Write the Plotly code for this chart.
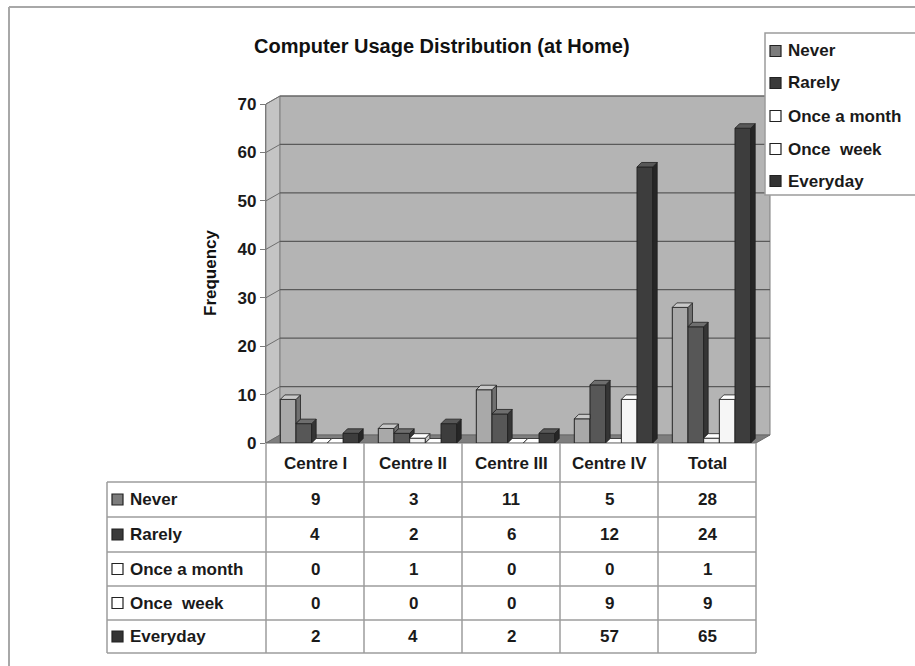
import plotly.graph_objects as go

# ---- data -------------------------------------------------------------
categories = ["Centre I", "Centre II", "Centre III", "Centre IV", "Total"]
series_names = ["Never", "Rarely", "Once a month", "Once\u00a0 week", "Everyday"]
never = [9, 3, 11, 5, 28]
rarely = [4, 2, 6, 12, 24]
once_a_month = [0, 1, 0, 0, 1]
once_week = [0, 0, 0, 9, 9]
everyday = [2, 4, 2, 57, 65]
y_ticks = [0, 10, 20, 30, 40, 50, 60, 70]

series_values = [never, rarely, once_a_month, once_week, everyday]

# ---- styling ------------------------------------------------------------
front_col = ["#a9a9a9", "#575757", "#f4f4f4", "#f6f6f6", "#3d3d3d"]
side_col = ["#707070", "#353535", "#c4c4c4", "#c8c8c8", "#262626"]
top_col = ["#c9c9c9", "#6e6e6e", "#ffffff", "#ffffff", "#585858"]
key_col = ["#7c7c7c", "#3a3a3a", "#ffffff", "#ffffff", "#333333"]

FONT = "Liberation Sans, Arial, sans-serif"
W, H = 915, 666
L, R, T, B = 266, 756, 104, 443          # plot area in pixels
YMAX = 70
PPX = (R - L) / len(categories)          # pixels per category
PPY = (B - T) / YMAX                     # pixels per unit of frequency
DX, DY = 14, 8                           # depth of the chart box (px)
BW = 0.16                                # bar width, category units
OFF0 = -0.354                            # first bar offset
FX, FY = 4.5 / PPX, 4.5 / PPY            # bar depth in data units


def px(x):
    return (x - L) / (R - L)


def py(y):
    return (B - y) / (B - T)


def ppath(points):
    return "M " + " L ".join(f"{px(x):.5f},{py(y):.5f}" for x, y in points) + " Z"


fig = go.Figure()
shapes = []
ann = []

# ---- chart box: side wall, back wall, floor, gridlines -----------------
shapes.append(dict(type="path", xref="paper", yref="paper", layer="below",
                   path=ppath([(L, B), (L, T), (L + DX, T - DY), (L + DX, B - DY)]),
                   fillcolor="#c4c4c4", line=dict(color="#8a8a8a", width=1)))
shapes.append(dict(type="rect", xref="paper", yref="paper", layer="below",
                   x0=px(L + DX), x1=px(R + DX), y0=py(B - DY), y1=py(T - DY),
                   fillcolor="#b4b4b4", line=dict(color="#7e7e7e", width=1)))
shapes.append(dict(type="path", xref="paper", yref="paper", layer="below",
                   path=ppath([(L, B), (L + DX, B - DY), (R + DX, B - DY), (R, B)]),
                   fillcolor="#7e7e7e", line=dict(color="#6a6a6a", width=1)))
for v in y_ticks[1:]:
    yv = B - v * PPY
    shapes.append(dict(type="line", xref="paper", yref="paper", layer="below",
                       x0=px(L + DX), x1=px(R + DX), y0=py(yv - DY), y1=py(yv - DY),
                       line=dict(color="#5a5a5a", width=1.2)))
    shapes.append(dict(type="line", xref="paper", yref="paper", layer="below",
                       x0=px(L), x1=px(L + DX), y0=py(yv), y1=py(yv - DY),
                       line=dict(color="#6e6e6e", width=1)))

# ---- bars (front faces) -------------------------------------------------
xs = list(range(len(categories)))
for k, (name, vals) in enumerate(zip(series_names, series_values)):
    fig.add_trace(go.Bar(
        x=xs, y=vals, name=name, width=BW, offset=OFF0 + k * BW,
        marker=dict(color=front_col[k], line=dict(color="#242424", width=1)),
        showlegend=False, hoverinfo="skip"))

# ---- bars (side and top faces) ------------------------------------------
for k, vals in enumerate(series_values):
    nxt = series_values[k + 1] if k + 1 < len(series_values) else None
    sx, sy, tx, ty = [], [], [], []
    for i, h in enumerate(vals):
        xl = i + OFF0 + k * BW
        xr = xl + BW
        nh = nxt[i] if nxt is not None else None
        # side face: only the part not hidden by the neighbouring bar
        if nh is None or nh < h:
            b0 = 0 if nh is None else nh
            sx += [xr, xr + FX, xr + FX, xr, xr, None]
            sy += [b0, b0 + FY, h + FY, h, b0, None]
        # top face
        if nh is not None and nh > h:
            tx += [xl, xl + FX, xr, xr, xl, None]
            ty += [h, h + FY, h + FY, h, h, None]
        else:
            tx += [xl, xl + FX, xr + FX, xr, xl, None]
            ty += [h, h + FY, h + FY, h, h, None]
    if sx:
        fig.add_trace(go.Scatter(x=sx, y=sy, mode="lines", fill="toself",
                                 fillcolor=side_col[k],
                                 line=dict(color="#202020", width=0.8),
                                 showlegend=False, hoverinfo="skip"))
    fig.add_trace(go.Scatter(x=tx, y=ty, mode="lines", fill="toself",
                             fillcolor=top_col[k],
                             line=dict(color="#202020", width=0.8),
                             showlegend=False, hoverinfo="skip"))

# ---- data table ---------------------------------------------------------
TL = 107
row_lines = [482, 517, 552, 586, 620, 653]
col_lines = [L + i * PPX for i in range(len(categories) + 1)]
grid = dict(color="#9c9c9c", width=1.5)
for yv in row_lines:
    shapes.append(dict(type="line", xref="paper", yref="paper",
                       x0=px(TL), x1=px(R), y0=py(yv), y1=py(yv), line=grid))
shapes.append(dict(type="line", xref="paper", yref="paper",
                   x0=px(TL), x1=px(TL), y0=py(row_lines[0]), y1=py(row_lines[-1]),
                   line=grid))
for xv in col_lines:
    shapes.append(dict(type="line", xref="paper", yref="paper",
                       x0=px(xv), x1=px(xv), y0=py(B), y1=py(row_lines[-1]),
                       line=grid))

cell_font = dict(family=FONT, size=17, color="#1a1a1a", weight="bold")
for i, cat in enumerate(categories):
    cx = L + (i + 0.5) * PPX
    ann.append(dict(x=px(cx), y=py((B + row_lines[0]) / 2 + 1), text=cat,
                    xref="paper", yref="paper", showarrow=False,
                    xanchor="center", yanchor="middle", font=cell_font))
for r, (name, vals) in enumerate(zip(series_names, series_values)):
    cy = (row_lines[r] + row_lines[r + 1]) / 2
    shapes.append(dict(type="rect", xref="paper", yref="paper",
                       x0=px(112), x1=px(123), y0=py(cy - 5.5), y1=py(cy + 5.5),
                       fillcolor=key_col[r], line=dict(color="#222222", width=1.2)))
    ann.append(dict(x=px(128), y=py(cy), text=name, xref="paper", yref="paper",
                    showarrow=False, xanchor="left", yanchor="middle", font=cell_font))
    for i, v in enumerate(vals):
        ann.append(dict(x=px(L + (i + 0.5) * PPX), y=py(cy), text=str(v),
                        xref="paper", yref="paper", showarrow=False,
                        xanchor="center", yanchor="middle", font=cell_font))

# ---- legend box ---------------------------------------------------------
leg_y = [51, 83, 116, 149, 181]
shapes.append(dict(type="rect", xref="paper", yref="paper",
                   x0=px(765), x1=px(930), y0=py(33), y1=py(195),
                   fillcolor="#ffffff", line=dict(color="#9c9c9c", width=1.5)))
for r, name in enumerate(series_names):
    cy = leg_y[r]
    shapes.append(dict(type="rect", xref="paper", yref="paper",
                       x0=px(770), x1=px(781), y0=py(cy - 5.5), y1=py(cy + 5.5),
                       fillcolor=key_col[r], line=dict(color="#222222", width=1.2)))
    ann.append(dict(x=px(786), y=py(cy), text=name, xref="paper", yref="paper",
                    showarrow=False, xanchor="left", yanchor="middle", font=cell_font))

# ---- outer frame --------------------------------------------------------
frame = dict(color="#a8a8a8", width=2)
shapes.append(dict(type="line", xref="paper", yref="paper",
                   x0=px(9), x1=px(9), y0=py(7), y1=py(680), line=frame))
shapes.append(dict(type="line", xref="paper", yref="paper",
                   x0=px(9), x1=px(930), y0=py(7), y1=py(7), line=frame))

# ---- titles -------------------------------------------------------------
ann.append(dict(x=px(442), y=py(46), xref="paper", yref="paper", showarrow=False,
                text="Computer Usage Distribution (at Home)",
                xanchor="center", yanchor="middle",
                font=dict(family=FONT, size=20, color="#111111", weight="bold")))
ann.append(dict(x=px(210), y=py(273), xref="paper", yref="paper", showarrow=False,
                text="Frequency", textangle=-90, xanchor="center", yanchor="middle",
                font=dict(family=FONT, size=17, color="#111111", weight="bold")))

fig.update_layout(
    template="none",
    width=W, height=H,
    margin=dict(l=L, r=W - R, t=T, b=H - B, autoexpand=False),
    paper_bgcolor="#ffffff",
    plot_bgcolor="rgba(0,0,0,0)",
    barmode="overlay",
    shapes=shapes,
    annotations=ann,
    showlegend=False,
    xaxis=dict(range=[-0.5, len(categories) - 0.5], showgrid=False,
               zeroline=False, showticklabels=False, showline=False,
               ticks="", fixedrange=True, automargin=False),
    yaxis=dict(range=[0, YMAX], tickvals=y_ticks, showgrid=False, zeroline=False,
               showline=True, linecolor="#7a7a7a", linewidth=1.2,
               ticks="outside", ticklen=5, tickcolor="#7a7a7a", tickwidth=1.2,
               tickfont=dict(family=FONT, size=17, color="#1a1a1a", weight="bold"),
               fixedrange=True, automargin=False),
)

fig.write_html("out.html")
